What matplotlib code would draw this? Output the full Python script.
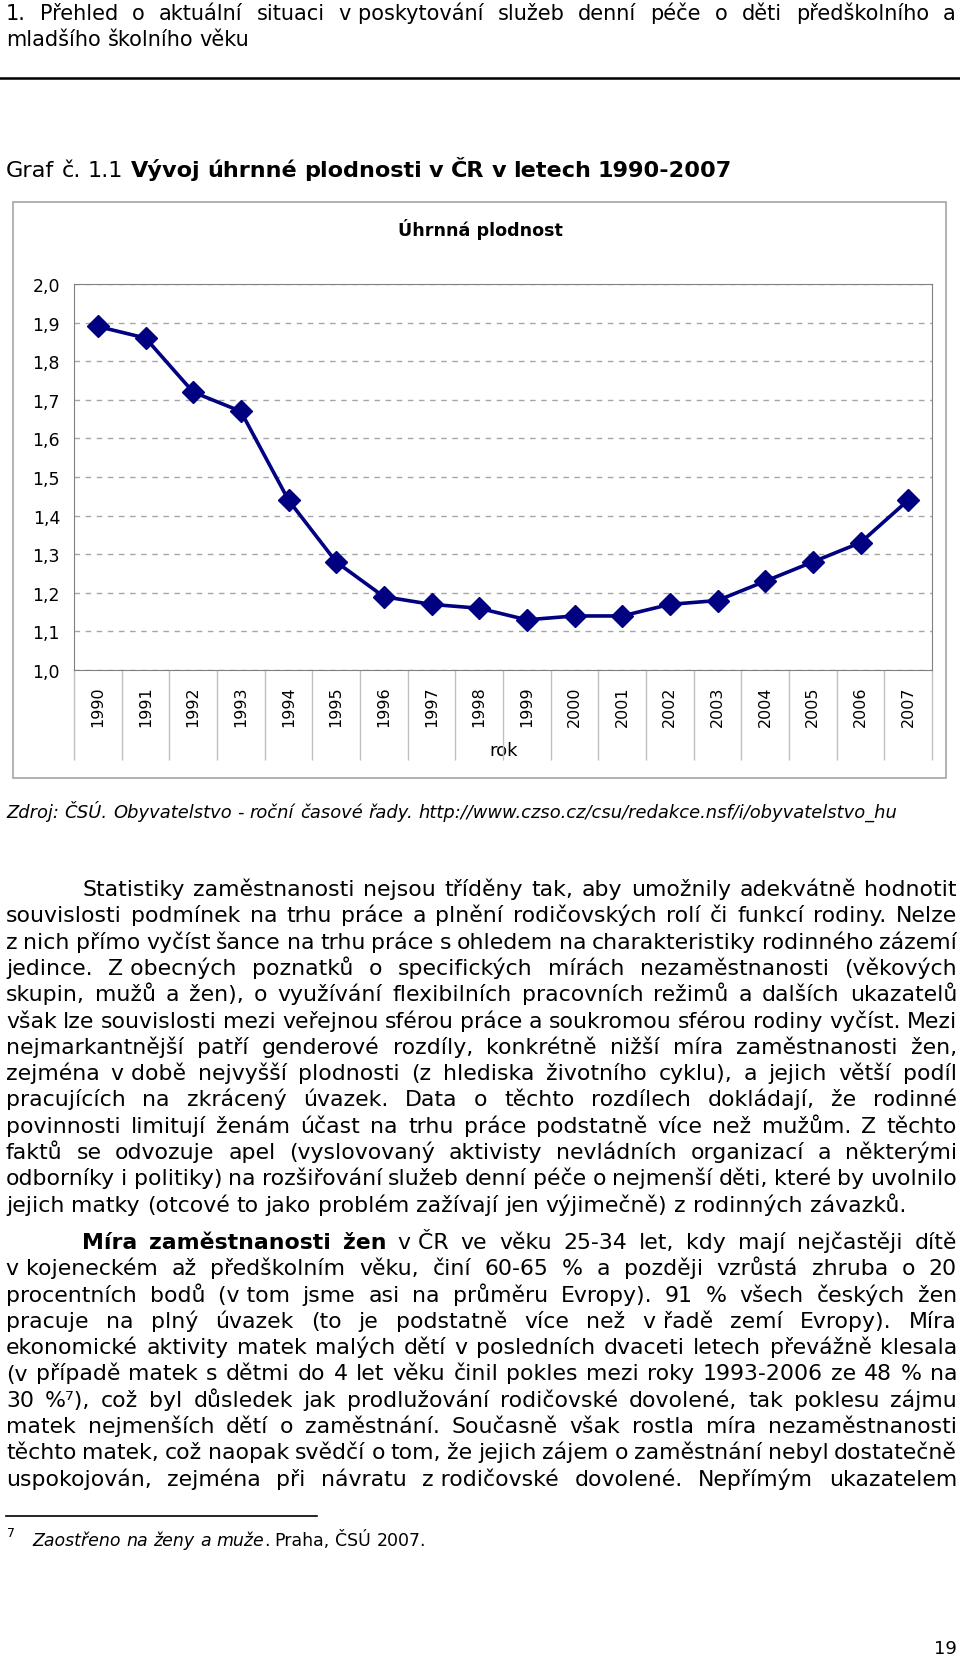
import numpy as np
import matplotlib
matplotlib.use('Agg')
import matplotlib.pyplot as plt
from matplotlib.patches import Rectangle

# Data grafu
roky = [str(r) for r in range(1990, 2008)]
plodnost = [1.89, 1.86, 1.72, 1.67, 1.44, 1.28, 1.19, 1.17, 1.16, 1.13,
            1.14, 1.14, 1.17, 1.18, 1.23, 1.28, 1.33, 1.44]
yticks = [1.0, 1.1, 1.2, 1.3, 1.4, 1.5, 1.6, 1.7, 1.8, 1.9, 2.0]
ylabels = ['1,0', '1,1', '1,2', '1,3', '1,4', '1,5', '1,6', '1,7', '1,8', '1,9', '2,0']

# Texty stranky  (~ = nezlomitelna mezera, *slovo* = tucne)
hlavicka = ["1. Přehled o aktuální situaci v~poskytování služeb denní péče o děti předškolního a",
            "mladšího školního věku"]
nadpis_grafu = ["Graf", "č.", "1.1", "*Vývoj*", "*úhrnné*", "*plodnosti*", "*v*", "*ČR*",
                "*v*", "*letech*", "*1990-2007*"]
zdroj = "Zdroj: ČSÚ. Obyvatelstvo - roční časové řady. http://www.czso.cz/csu/redakce.nsf/i/obyvatelstvo_hu"
odstavec1 = [
    "Statistiky zaměstnanosti nejsou tříděny tak, aby umožnily adekvátně hodnotit",
    "souvislosti podmínek na trhu práce a plnění rodičovských rolí či funkcí rodiny. Nelze",
    "z nich přímo vyčíst šance na trhu práce s ohledem na charakteristiky rodinného zázemí",
    "jedince. Z~obecných poznatků o specifických mírách nezaměstnanosti (věkových",
    "skupin, mužů a žen), o využívání flexibilních pracovních režimů a dalších ukazatelů",
    "však lze souvislosti mezi veřejnou sférou práce a soukromou sférou rodiny vyčíst. Mezi",
    "nejmarkantnější patří genderové rozdíly, konkrétně nižší míra zaměstnanosti žen,",
    "zejména v~době nejvyšší plodnosti (z hlediska životního cyklu), a jejich větší podíl",
    "pracujících na zkrácený úvazek. Data o těchto rozdílech dokládají, že rodinné",
    "povinnosti limitují ženám účast na trhu práce podstatně více než mužům. Z těchto",
    "faktů se odvozuje apel (vyslovovaný aktivisty nevládních organizací a některými",
    "odborníky i politiky) na rozšiřování služeb denní péče o nejmenší děti, které by uvolnilo",
    "jejich matky (otcové to jako problém zažívají jen výjimečně) z rodinných závazků.",
]
odstavec2 = [
    "*Míra* *zaměstnanosti* *žen* v~ČR ve věku 25-34 let, kdy mají nejčastěji dítě",
    "v~kojeneckém až předškolním věku, činí 60-65 % a později vzrůstá zhruba o 20",
    "procentních bodů (v~tom jsme asi na průměru Evropy). 91 % všech českých žen",
    "pracuje na plný úvazek (to je podstatně více než v~řadě zemí Evropy). Míra",
    "ekonomické aktivity matek malých dětí v posledních dvaceti letech převážně klesala",
    "(v případě matek s dětmi do 4 let věku činil pokles mezi roky 1993-2006 ze 48 % na",
    "30 %⁷), což byl důsledek jak prodlužování rodičovské dovolené, tak poklesu zájmu",
    "matek nejmenších dětí o zaměstnání. Současně však rostla míra nezaměstnanosti",
    "těchto matek, což naopak svědčí o tom, že jejich zájem o zaměstnání nebyl dostatečně",
    "uspokojován, zejména při návratu z~rodičovské dovolené. Nepřímým ukazatelem",
]

plt.rcParams['font.family'] = ['DejaVu Sans']

fig = plt.figure(figsize=(9.6, 16.58), dpi=100)
bg = fig.add_axes([0, 0, 1, 1])
bg.set_xlim(0, 960); bg.set_ylim(1658, 0); bg.axis('off')
rend = fig.canvas.get_renderer()


def radek(slova, y, x0, x1, size, zarovnat=True, style='normal'):
    objs = []
    for s in slova:
        w = 'normal'
        if len(s) > 2 and s.startswith('*') and s.endswith('*'):
            s = s[1:-1]; w = 'bold'
        s = s.replace('~', '\u00a0')
        objs.append(bg.text(0, y, s, fontsize=size, fontweight=w, style=style,
                            va='baseline', ha='left'))
    sirky = [t.get_window_extent(rend).width for t in objs]
    if zarovnat and len(objs) > 1:
        mezera = (x1 - x0 - sum(sirky)) / (len(objs) - 1)
    else:
        mezera = 0.318 * size / 0.72
    x = x0
    for t, w in zip(objs, sirky):
        t.set_x(x)
        x += w + mezera
    return x - mezera


# hlavicka
radek(hlavicka[0].split(' '), 20, 6, 956, 15)
radek(hlavicka[1].split(' '), 46, 6, 956, 15, zarovnat=False)
bg.plot([0, 960], [79, 79], color='black', lw=1.8)
radek(nadpis_grafu, 177, 6, 956, 16.1, zarovnat=False)

# ramecek grafu
bg.add_patch(Rectangle((13, 203), 933, 576, fill=False, ec='#a6a6a6', lw=1.2))
bg.text(480, 229, 'Úhrnná plodnost', fontsize=12.6, fontweight='bold', ha='center', va='center')

ax = fig.add_axes([74/960, 1 - 671/1658, (932-74)/960, (671-285)/1658])
ax.plot(range(len(roky)), plodnost, color='#000080', lw=2.6, marker='D', ms=11,
        mfc='#000080', mec='#000080', clip_on=False, zorder=3)
ax.set_xlim(-0.5, len(roky) - 0.5)
ax.set_ylim(1.0, 2.0)
ax.set_yticks(yticks)
ax.set_yticklabels(ylabels, fontsize=12.5)
ax.set_xticks(range(len(roky)))
ax.set_xticklabels(roky, rotation=90, fontsize=11.5)
ax.tick_params(axis='y', length=0, pad=10)
ax.tick_params(axis='x', length=0, pad=11)
ax.yaxis.grid(True, linestyle=(0, (4, 4)), color='#a6a6a6', lw=1)
ax.set_axisbelow(True)
for sp in ax.spines.values():
    sp.set_color('#808080')
ax.vlines(np.arange(len(roky) + 1) - 0.5, -90/386, 0, transform=ax.get_xaxis_transform(),
          colors='#c0c0c0', lw=1, clip_on=False)
bg.text(504, 751, 'rok', fontsize=13, ha='center', va='center')

# zdroj
radek(zdroj.split(' '), 818, 6, 956, 12.9, zarovnat=False, style='italic')

# text
vyska = 26.3
for i, r in enumerate(odstavec1):
    x0 = 82 if i == 0 else 6
    radek(r.split(' '), 896 + i*vyska, x0, 957, 15.8, zarovnat=(i < len(odstavec1) - 1))
for i, r in enumerate(odstavec2):
    x0 = 82 if i == 0 else 6
    radek(r.split(' '), 1249 + i*vyska, x0, 957, 15.8)

# poznamka pod carou
bg.plot([6, 317], [1517, 1517], color='black', lw=1.2)
bg.text(7, 1537, '7', fontsize=9, va='baseline', ha='left')
xk = radek(['Zaostřeno', 'na', 'ženy', 'a', 'muže'], 1546, 32, 956, 12.5, zarovnat=False, style='italic')
radek(['.', 'Praha,', 'ČSÚ', '2007.'], 1546, xk, 956, 12.5, zarovnat=False)

bg.text(957, 1654, '19', fontsize=13, ha='right', va='baseline')

fig.savefig('out.png', dpi=100)
